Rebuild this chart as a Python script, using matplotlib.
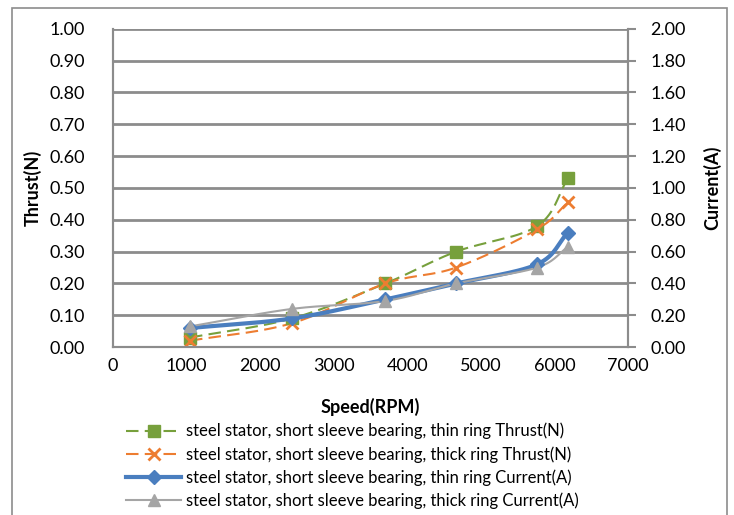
import matplotlib.pyplot as plt
import numpy as np
from matplotlib.patches import Rectangle

plt.rcParams['font.family'] = ['Lato', 'DejaVu Sans']

speed = [1046, 2430, 3700, 4660, 5760, 6180]
thin_thrust = [0.03, 0.09, 0.20, 0.30, 0.38, 0.53]
thick_thrust = [0.02, 0.075, 0.20, 0.25, 0.37, 0.455]
thin_current = [0.12, 0.18, 0.30, 0.40, 0.52, 0.72]
thick_current = [0.13, 0.24, 0.29, 0.40, 0.50, 0.63]

labels = [
    'steel stator, short sleeve bearing, thin ring Thrust(N)',
    'steel stator, short sleeve bearing, thick ring Thrust(N)',
    'steel stator, short sleeve bearing, thin ring Current(A)',
    'steel stator, short sleeve bearing, thick ring Current(A)',
]


def smooth(x, y, n=30):
    # Catmull-Rom curve through the points, like a spreadsheet "smoothed line"
    x = np.asarray(x, float)
    y = np.asarray(y, float)
    px = np.concatenate([[2 * x[0] - x[1]], x, [2 * x[-1] - x[-2]]])
    py = np.concatenate([[2 * y[0] - y[1]], y, [2 * y[-1] - y[-2]]])
    xs, ys = [], []
    t = np.linspace(0, 1, n)
    for i in range(1, len(px) - 2):
        for p, out in ((px, xs), (py, ys)):
            p0, p1, p2, p3 = p[i - 1], p[i], p[i + 1], p[i + 2]
            out.extend(0.5 * (2 * p1 + (-p0 + p2) * t
                              + (2 * p0 - 5 * p1 + 4 * p2 - p3) * t ** 2
                              + (-p0 + 3 * p1 - 3 * p2 + p3) * t ** 3))
    return xs, ys


green = '#77a03c'
orange = '#ed7d31'
blue = '#4a7ebf'
gray = '#a5a5a5'
gridc = '#8c8c8c'
fs = 13

fig = plt.figure(figsize=(7.34, 5.15), dpi=100)
ax = fig.add_axes([0.154, 0.326, 0.702, 0.618])
ax2 = ax.twinx()

# thrust on the left axis
sx, sy = smooth(speed, thin_thrust)
ax.plot(sx, sy, color=green, lw=1.5, dashes=(6, 3), zorder=3)
ax.plot(speed, thin_thrust, 's', color=green, ms=8, zorder=4)
sx, sy = smooth(speed, thick_thrust)
ax.plot(sx, sy, color=orange, lw=1.5, dashes=(6, 3), zorder=3)
ax.plot(speed, thick_thrust, 'x', color=orange, ms=9, mew=2, zorder=4)

# current on the right axis
sx, sy = smooth(speed, thin_current)
ax2.plot(sx, sy, color=blue, lw=3, zorder=3)
ax2.plot(speed, thin_current, 'D', color=blue, ms=7, zorder=4)
sx, sy = smooth(speed, thick_current)
ax2.plot(sx, sy, color=gray, lw=1.5, zorder=3)
ax2.plot(speed, thick_current, '^', color=gray, ms=8, zorder=4)

ax.set_xlim(0, 7000)
ax.set_ylim(0, 1.0)
ax2.set_ylim(0, 2.0)
ax.set_xticks(np.arange(0, 7001, 1000))
ax.set_yticks(np.arange(0, 1.01, 0.1))
ax2.set_yticks(np.arange(0, 2.01, 0.2))
ax.yaxis.set_major_formatter(lambda v, p: f'{v:.2f}')
ax2.yaxis.set_major_formatter(lambda v, p: f'{v:.2f}')
ax.grid(axis='y', color=gridc, lw=2)
ax.set_axisbelow(True)

for a in (ax, ax2):
    for s in a.spines.values():
        s.set_color(gridc)
        s.set_linewidth(1.5)
    a.spines['top'].set_visible(False)
    a.tick_params(labelsize=fs, colors=gridc, labelcolor='black', width=1.5)
ax.tick_params(axis='x', length=0, pad=8)
ax.tick_params(axis='y', length=0, pad=20)
ax2.tick_params(axis='y', length=6, pad=10)

ax.set_ylabel('Thrust(N)', fontsize=fs, fontweight='bold', labelpad=6)
ax2.set_ylabel('Current(A)', fontsize=fs, fontweight='bold', labelpad=12)
ax.set_xlabel('Speed(RPM)', fontsize=fs, fontweight='bold', labelpad=17)

handles = [
    plt.Line2D([], [], color=green, lw=1.5, dashes=(6, 3), marker='s', ms=8),
    plt.Line2D([], [], color=orange, lw=1.5, dashes=(6, 3), marker='x', ms=9, mew=2),
    plt.Line2D([], [], color=blue, lw=3, marker='D', ms=7),
    plt.Line2D([], [], color=gray, lw=1.5, marker='^', ms=8),
]
fig.legend(handles, labels, loc='upper left', bbox_to_anchor=(0.163, 0.192),
           frameon=False, fontsize=12, handlelength=3.3, handletextpad=0.3,
           labelspacing=0.4, borderaxespad=0)

fig.patches.append(Rectangle((0.016, -0.01), 0.975, 0.995, transform=fig.transFigure,
                             fill=False, edgecolor='#8c8c8c', lw=1.2))

fig.savefig('out.png', dpi=100)
